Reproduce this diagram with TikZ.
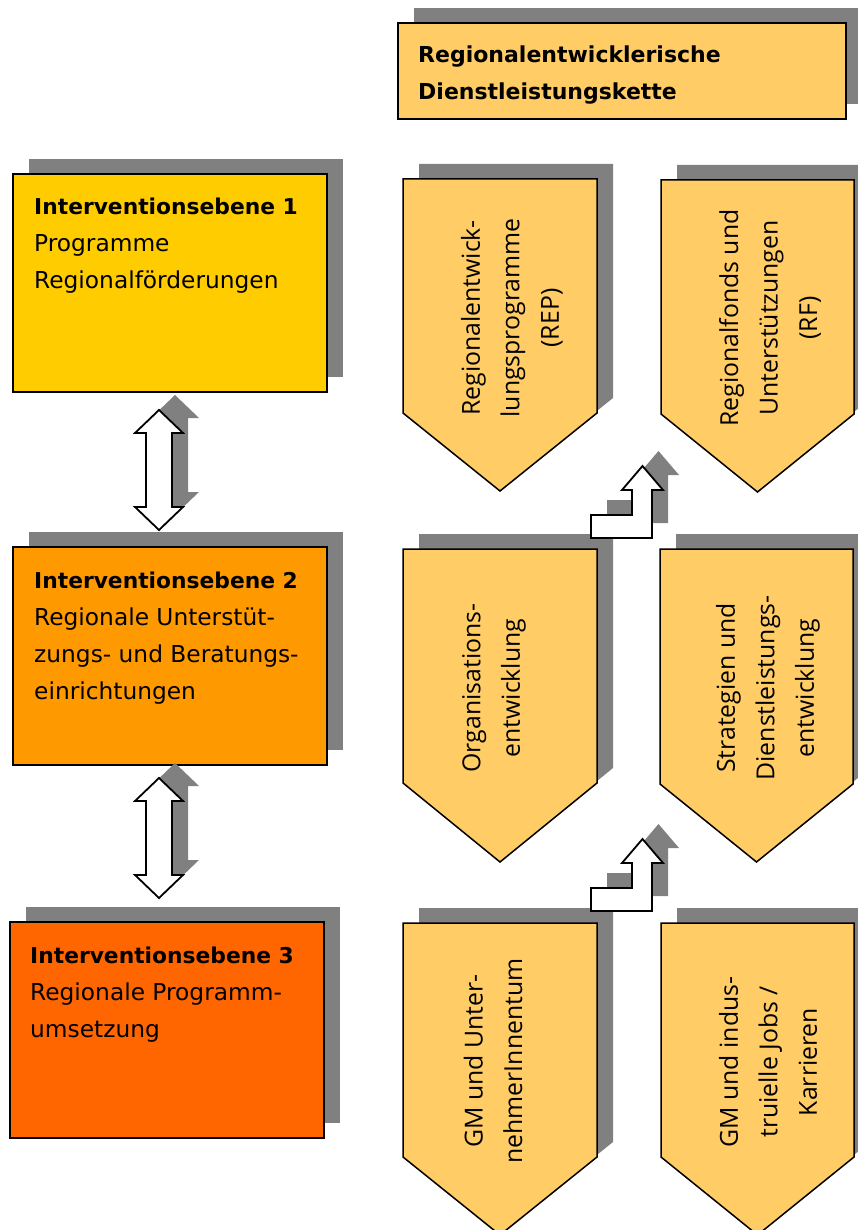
\documentclass[tikz,border=0pt]{standalone}
\usepackage{fontspec}
\setmainfont{DejaVu Sans}
\newfontfamily\pentfont{Open Sans}
\usetikzlibrary{shadows}
\definecolor{shadowgray}{HTML}{808080}
\definecolor{lightorange}{HTML}{FFCC66}
\definecolor{levelone}{HTML}{FFCC00}
\definecolor{leveltwo}{HTML}{FF9900}
\definecolor{levelthree}{HTML}{FF6600}
\tikzset{
  myshadow/.style={drop shadow={shadow xshift=16pt, shadow yshift=15pt, fill=shadowgray, opacity=1, draw=none}},
  levelbox/.style={rectangle, draw=black, line width=1.5pt, minimum width=314pt, minimum height=218pt, inner sep=0pt, myshadow},
  pentshape/.style={draw=black, line width=1.5pt, fill=lightorange, line join=miter, myshadow},
  arrowshape/.style={draw=black, line width=1.8pt, fill=white, line join=miter, myshadow},
  boxtext/.style={anchor=base west, inner sep=0pt},
  penttext/.style={rotate=90, align=center, inner sep=0pt, font=\pentfont\fontsize{24.8}{39.5}\selectfont},
}
\newcommand{\levelbold}[1]{{\fontsize{21.8}{37}\selectfont\bfseries #1}}
\begin{document}
\begin{tikzpicture}[x=1pt,y=-1pt]
\useasboundingbox (0,0) rectangle (857,1230);

% header
\node[rectangle, draw=black, line width=1.5pt, fill=lightorange, minimum width=448pt, minimum height=96pt, inner sep=0pt, myshadow] (header) at (622,71) {};
\node[boxtext] (headertext) at (418,63) {\parbox[t]{420pt}{\fontsize{22}{37}\selectfont\bfseries Regionalentwicklerische\\Dienstleistungskette}};

% level boxes
\node[levelbox, fill=levelone] (box1) at (170,283) {};
\node[levelbox, fill=leveltwo] (box2) at (170,656) {};
\node[levelbox, fill=levelthree, minimum height=216pt] (box3) at (167,1030) {};

\node[boxtext] (box1text) at (34,215) {\parbox[t]{290pt}{\fontsize{23.3}{37}\selectfont\levelbold{Interventionsebene 1}\\Programme\\Regionalförderungen}};
\node[boxtext] (box2text) at (34,588) {\parbox[t]{290pt}{\fontsize{23.3}{37}\selectfont\levelbold{Interventionsebene 2}\\Regionale Unterstüt-\\zungs- und Beratungs-\\einrichtungen}};
\node[boxtext] (box3text) at (30,963) {\parbox[t]{290pt}{\fontsize{23.3}{37}\selectfont\levelbold{Interventionsebene 3}\\Regionale Programm-\\umsetzung}};

% double arrows between levels
\draw[arrowshape] (159,410) -- (183,433) -- (172,433) -- (172,507) -- (183,507) -- (159,530) -- (135,507) -- (146,507) -- (146,433) -- (135,433) -- cycle;
\draw[arrowshape] (159,778) -- (183,801) -- (172,801) -- (172,875) -- (183,875) -- (159,898) -- (135,875) -- (146,875) -- (146,801) -- (135,801) -- cycle;

% pentagons
\draw[pentshape] (403,179) -- (597,179) -- (597,413) -- (500,491) -- (403,413) -- cycle;
\draw[pentshape] (661,180) -- (854,180) -- (854,414) -- (757.5,492) -- (661,414) -- cycle;
\draw[pentshape] (403,549) -- (597,549) -- (597,783) -- (500,862) -- (403,783) -- cycle;
\draw[pentshape] (660,549) -- (853,549) -- (853,784) -- (756.5,862) -- (660,784) -- cycle;
\draw[pentshape] (403,923) -- (597,923) -- (597,1157) -- (500,1235) -- (403,1157) -- cycle;
\draw[pentshape] (661,923) -- (854,923) -- (854,1157) -- (757.5,1235) -- (661,1157) -- cycle;

\node[penttext] (p1) at (512,318) {Regionalentwick-\\lungsprogramme\\(REP)};
\node[penttext] (p2) at (770,318) {Regionalfonds und\\Unterstützungen\\(RF)};
\node[penttext] (p3) at (494,688) {Organisations-\\entwicklung};
\node[penttext] (p4) at (768,688) {Strategien und\\Dienstleistungs-\\entwicklung};
\node[penttext] (p5) at (493,1061) {GM und Unter-\\nehmerInnentum};
\node[penttext] (p6) at (768,1062) {GM und indus-\\truielle Jobs /\\Karrieren};

% step arrows
\draw[arrowshape] (591,538) -- (591,515) -- (632,515) -- (632,490) -- (622,490) -- (642.5,466) -- (663,490) -- (652,490) -- (652,538) -- cycle;
\draw[arrowshape] (591,911) -- (591,888) -- (632,888) -- (632,863) -- (622,863) -- (642.5,839) -- (663,863) -- (652,863) -- (652,911) -- cycle;
\end{tikzpicture}
\end{document}
